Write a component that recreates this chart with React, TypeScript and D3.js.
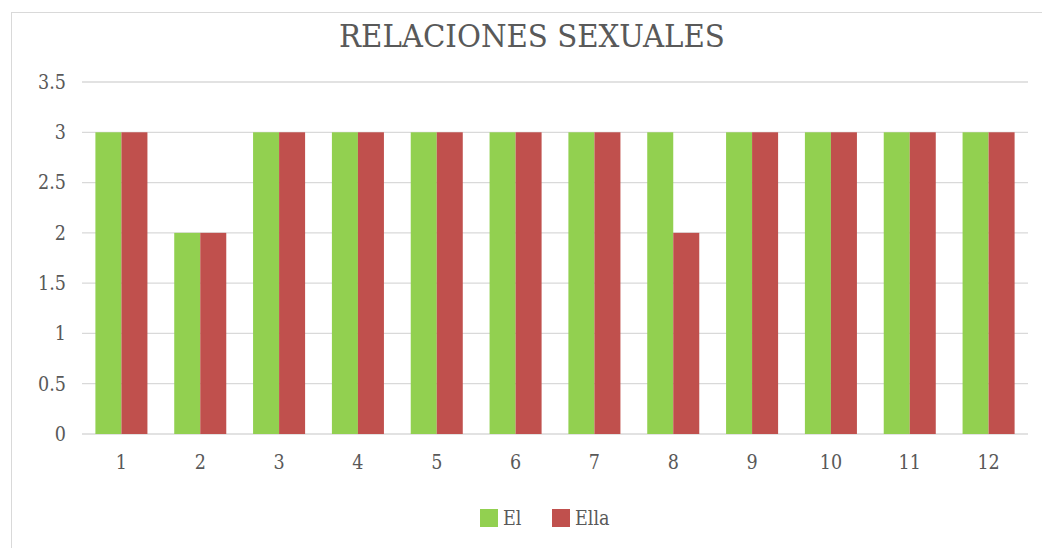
import React from "react";
import * as d3 from "d3";

const categories = ["1", "2", "3", "4", "5", "6", "7", "8", "9", "10", "11", "12"];
const elValues = [3, 2, 3, 3, 3, 3, 3, 3, 3, 3, 3, 3];
const ellaValues = [3, 2, 3, 3, 3, 3, 3, 2, 3, 3, 3, 3];
const seriesNames = ["El", "Ella"];
const seriesColors = ["#92D050", "#C0504D"];
const yTicks = [0, 0.5, 1, 1.5, 2, 2.5, 3, 3.5];

const W = 1042;
const H = 548;
const plot = { left: 82, right: 1028, top: 82, bottom: 434 };
const font = "'DejaVu Serif Condensed', 'DejaVu Serif', serif";

export default function App() {
  const x = d3.scaleBand<string>().domain(categories).range([plot.left, plot.right]).paddingInner(0).paddingOuter(0);
  const y = d3.scaleLinear().domain([0, 3.5]).range([plot.bottom, plot.top]);
  const groupW = x.bandwidth() * 0.66;
  const inner = d3.scaleBand<string>().domain(seriesNames).range([0, groupW]);
  const series = [elValues, ellaValues];

  return (
    <svg width={W} height={H} style={{ position: "absolute", left: 0, top: 0, background: "#fff" }}>
      <rect x={11.5} y={12.5} width={1100} height={600} fill="#fff" stroke="#d9d9d9" strokeWidth={1} />
      <text x={532} y={47} textAnchor="middle" fontFamily={font} fontSize={32.5} fill="#595959">
        RELACIONES SEXUALES
      </text>
      {yTicks.map((t) => (
        <g key={t}>
          <line x1={plot.left} x2={plot.right} y1={y(t)} y2={y(t)} stroke="#d9d9d9" strokeWidth={1.3} />
          <text x={66} y={y(t)} dy="0.35em" textAnchor="end" fontFamily={font} fontSize={19.5} fill="#595959">
            {t}
          </text>
        </g>
      ))}
      {categories.map((c, i) => (
        <g key={c}>
          {series.map((vals, s) => {
            const bx = (x(c) as number) + (x.bandwidth() - groupW) / 2 + (inner(seriesNames[s]) as number);
            return (
              <rect
                key={s}
                x={bx}
                y={y(vals[i])}
                width={inner.bandwidth()}
                height={y(0) - y(vals[i])}
                fill={seriesColors[s]}
              />
            );
          })}
          <text
            x={(x(c) as number) + x.bandwidth() / 2}
            y={462}
            dy="0.35em"
            textAnchor="middle"
            fontFamily={font}
            fontSize={19.5}
            fill="#595959"
          >
            {c}
          </text>
        </g>
      ))}
      {seriesNames.map((n, s) => (
        <g key={n} transform={`translate(${480 + s * 72},509)`}>
          <rect x={0} y={0} width={18} height={18} fill={seriesColors[s]} />
          <text x={23} y={9} dy="0.35em" fontFamily={font} fontSize={19.5} fill="#595959">
            {n}
          </text>
        </g>
      ))}
    </svg>
  );
}
